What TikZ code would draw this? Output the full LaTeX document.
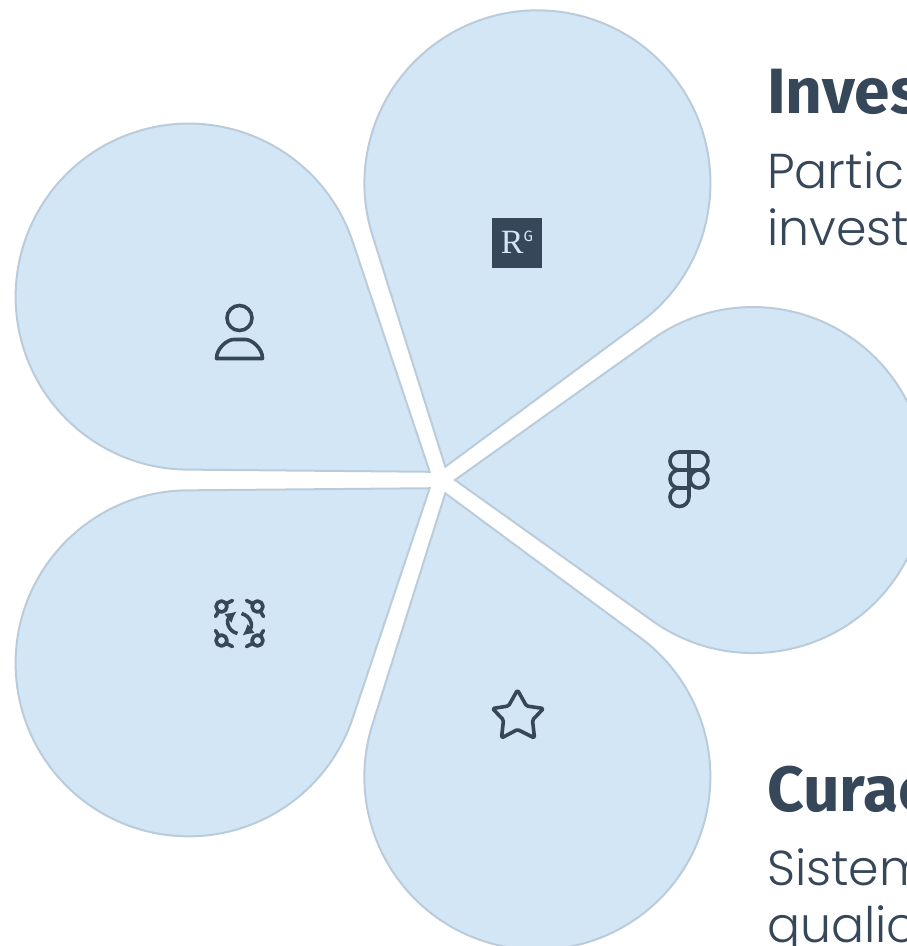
\documentclass[tikz,border=0pt]{standalone}
\usepackage{fontspec}
\usetikzlibrary{arrows.meta}
\setmainfont{Liberation Serif}
\newfontfamily\headfont{Fira Sans}
\newfontfamily\bodyfont{Poppins}[UprightFont=* Light]
\definecolor{petalBlue}{RGB}{210, 230, 246}
\definecolor{petalEdge}{RGB}{186, 204, 218}
\definecolor{themeInk}{RGB}{54, 71, 90}
\begin{document}
\begin{tikzpicture} [
        x=1pt, y=1pt,
        petal/.style={fill=petalBlue, draw=petalEdge, line width=2pt},
        icon/.style={draw=themeInk, line width=3.6pt, line cap=round, line join=round},
        head/.style={anchor=base west, inner sep=0, text=themeInk, font=\headfont\bfseries\fontsize{64}{64}\selectfont},
        copytext/.style={anchor=base west, inner sep=0, text=themeInk, align=left, font=\bodyfont\fontsize{49}{57}\selectfont}
    ]
        \useasboundingbox (0, -946) rectangle (907, 0);

        % petals
        \foreach \a in {0, 72, 144, 216, 288} {
            \begin{scope}[shift={(441, -480)}, rotate=\a]
                \draw[petal] (14, 0) -- ++(-35.5:242.6) arc[start angle=-125.5, end angle=125.5, radius=173] -- cycle;
            \end{scope}
        }

        % researchgate
        \node[fill=themeInk, minimum size=50pt, inner sep=0, text=petalBlue, font=\fontsize{34}{34}\selectfont] (rg) at (517, -242.5) {\raisebox{-6pt}{R}\raisebox{6pt}{\headfont\fontsize{15}{15}\selectfont G}};

        % person
        \begin{scope}[shift={(239.5, -340)}]
            \draw[icon] (0, 22) circle (12.5);
            \draw[icon] (-23, -18.5) -- (23, -18.5) .. controls (23, -8) and (12, 0.5) .. (6, 0.5) -- (-6, 0.5) .. controls (-12, 0.5) and (-23, -8) .. cycle;
        \end{scope}

        % figma
        \begin{scope}[shift={(689, -479)}]
            \draw[icon] (0, 27) -- (-10, 27) arc[start angle=90, end angle=270, radius=9] -- (10, 9) arc[start angle=-90, end angle=90, radius=9] -- cycle -- (0, 9);
            \draw[icon] (0, 9) -- (-10, 9) arc[start angle=90, end angle=270, radius=9] -- (0, -9) -- cycle;
            \draw[icon] (-10, -9) -- (0, -9) -- (0, -18) arc[start angle=0, end angle=-270, radius=9.5];
            \draw[icon] (10, 0) circle (9);
        \end{scope}

        % curation
        \begin{scope}[shift={(239.5, -623.5)}]
            \foreach \sx/\sy in {1/1, -1/1, 1/-1, -1/-1} {
                \begin{scope}[xscale=\sx, yscale=\sy]
                    \draw[icon] (-18, 17) circle (5.5);
                    \draw[icon] (-13, 20) -- (-7, 23);
                    \draw[icon] (-21, 12) -- (-24, 7);
                \end{scope}
            }
            \foreach \r in {0, 180} {
                \draw[icon, line cap=butt, -{Latex[length=11pt, width=12pt]}, rotate=\r] (-2, -10) .. controls (-13, -7) and (-13, 4) .. (-3, 12);
            }
        \end{scope}

        % star
        \begin{scope}[shift={(517.5, -716)}]
            \draw[icon, rounded corners=1.5pt] (0, 26) -- (9, 10) -- (26, 7.5) -- (15, -4) -- (17, -22) -- (0, -13.5) -- (-16, -22) -- (-14, -4) -- (-25, 7.5) -- (-9, 10) -- cycle;
        \end{scope}

        % texts
        \node[head] (invest) at (767, -113) {Inves};
        \node[copytext] (investtext) at (767, -245) {Partic\\invest};
        \node[head] (curac) at (767, -811) {Curac};
        \node[copytext] (curactext) at (767, -942) {Sistem\\qualic};
    \end{tikzpicture}
\end{document}
